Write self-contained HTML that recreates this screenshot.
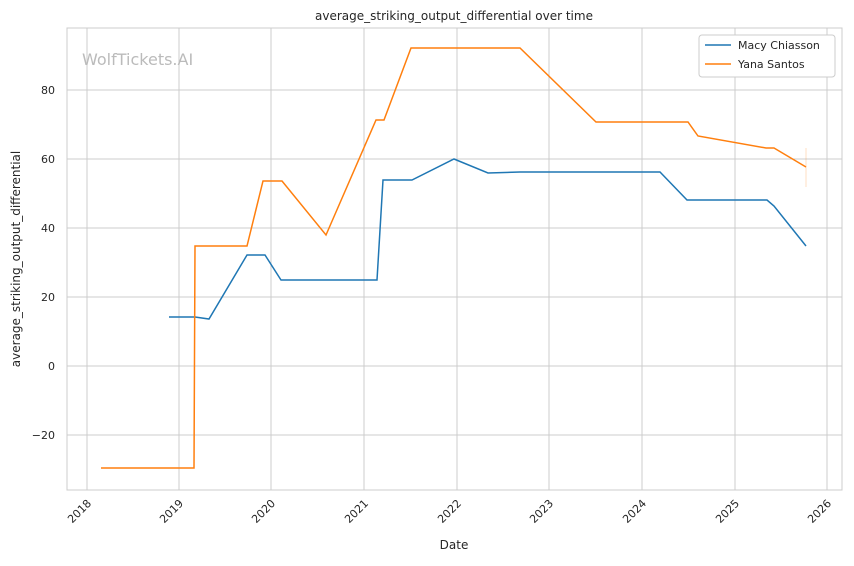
<!DOCTYPE html>
<html><head><style>body{margin:0;background:#fff}</style></head><body>
<svg width="854" height="561" xmlns="http://www.w3.org/2000/svg" font-family="DejaVu Sans, Liberation Sans, sans-serif">
<rect width="854" height="561" fill="#fff"/>
<g stroke="#cccccc" stroke-width="1">
<line x1="87" y1="28" x2="87" y2="490"/><line x1="179" y1="28" x2="179" y2="490"/><line x1="271" y1="28" x2="271" y2="490"/><line x1="364" y1="28" x2="364" y2="490"/><line x1="457" y1="28" x2="457" y2="490"/><line x1="549" y1="28" x2="549" y2="490"/><line x1="642" y1="28" x2="642" y2="490"/><line x1="735" y1="28" x2="735" y2="490"/><line x1="827" y1="28" x2="827" y2="490"/>
<line x1="67" y1="90" x2="842" y2="90"/><line x1="67" y1="159" x2="842" y2="159"/><line x1="67" y1="228" x2="842" y2="228"/><line x1="67" y1="297" x2="842" y2="297"/><line x1="67" y1="366" x2="842" y2="366"/><line x1="67" y1="435" x2="842" y2="435"/>
</g>
<rect x="67" y="28" width="775" height="462" fill="none" stroke="#cccccc"/>
<text x="82" y="65" font-size="16" fill="#bbbbbb">WolfTickets.AI</text>
<polyline fill="none" stroke="#1f77b4" stroke-width="1.5" points="169,317 195,317 209,319 247,255 265,255 281,280 377,280 383,180 412,180 454,159 488,173 520,172 660,172 687,200 767,200 774,206 806,246"/>
<line x1="806" y1="148" x2="806" y2="187" stroke="#ff7f0e" stroke-opacity="0.25"/>
<polyline fill="none" stroke="#ff7f0e" stroke-width="1.5" points="101,468 194,468 195,246 247,246 263,181 282,181 326,235 376,120 384,120 411,48 520,48 596,122 688,122 698,136 766,148 774,148 806,167"/>
<g font-size="11" fill="#262626" text-anchor="end">
<text x="55" y="94">80</text><text x="55" y="163">60</text><text x="55" y="232">40</text><text x="55" y="301">20</text><text x="55" y="370">0</text><text x="55" y="439">−20</text>
</g>
<g font-size="11" fill="#262626" text-anchor="end">
<text transform="translate(92,504) rotate(-45)">2018</text><text transform="translate(184,504) rotate(-45)">2019</text><text transform="translate(276,504) rotate(-45)">2020</text><text transform="translate(369,504) rotate(-45)">2021</text><text transform="translate(462,504) rotate(-45)">2022</text><text transform="translate(554,504) rotate(-45)">2023</text><text transform="translate(647,504) rotate(-45)">2024</text><text transform="translate(740,504) rotate(-45)">2025</text><text transform="translate(832,504) rotate(-45)">2026</text>
</g>
<text x="454" y="549" font-size="12" fill="#262626" text-anchor="middle">Date</text>
<text transform="translate(20,259) rotate(-90)" font-size="12" fill="#262626" text-anchor="middle">average_striking_output_differential</text>
<text x="454" y="20" font-size="12" fill="#262626" text-anchor="middle">average_striking_output_differential over time</text>
<rect x="699" y="35" width="136" height="42" rx="3" fill="#fff" stroke="#cccccc"/>
<line x1="705" y1="45" x2="731" y2="45" stroke="#1f77b4" stroke-width="1.5"/>
<line x1="705" y1="64" x2="731" y2="64" stroke="#ff7f0e" stroke-width="1.5"/>
<text x="738" y="49" font-size="11" fill="#262626">Macy Chiasson</text>
<text x="738" y="68" font-size="11" fill="#262626">Yana Santos</text>
</svg>
</body></html>
